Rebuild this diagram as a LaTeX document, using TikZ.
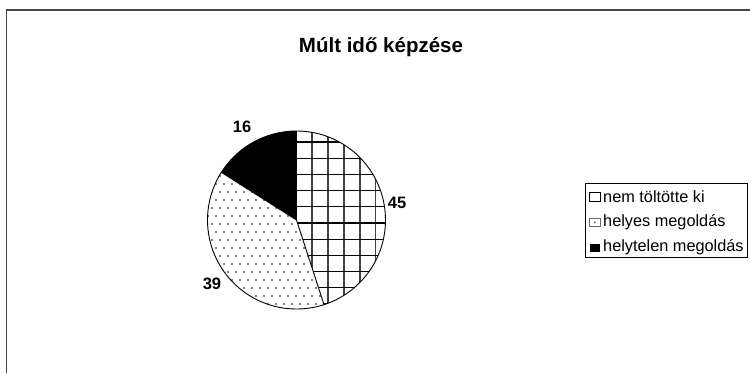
\documentclass[tikz,border=0pt]{standalone}
\usepackage{fontspec}
\setmainfont{Liberation Sans}
\begin{document}
\begin{tikzpicture}[x=1pt,y=-1pt,
  frameline/.style={draw=black!72,line width=1.4pt},
  slicebd/.style={draw=black,line width=0.9pt},
  lbl/.style={font=\fontsize{16.5}{19}\selectfont\bfseries,inner sep=0pt},
  legtxt/.style={font=\fontsize{16.3}{19}\selectfont,anchor=west,inner sep=0pt},
  swatch/.style={draw=black,line width=0.8pt},
  gridv/.style={draw=black!75,line width=1.8pt},
  gridh/.style={draw=black,line width=1.1pt}]
\useasboundingbox (0,0) rectangle (750,373);
\fill[white] (0,0) rectangle (750,373);
% outer frame (only left and top edges visible)
\coordinate (fbl) at (6.5,373);
\coordinate (ftl) at (6.5,10);
\coordinate (ftr) at (750,10);
\draw[frameline] (fbl) -- (ftl) -- (ftr);
% title
\node[font=\fontsize{20.5}{24}\selectfont\bfseries,inner sep=0pt] (title) at (381,47) {Múlt idő képzése};
% pie
\def\R{89}
\coordinate (C) at (296.5,220);
% grid slice (45)
\begin{scope}
  \clip (C) -- ++(-90:\R) arc[start angle=-90,end angle=72,radius=\R] -- cycle;
  \fill[white] (C) circle[radius=\R];
  \foreach \k in {1,...,6} {\draw[gridv] (296.5+15.8*\k,120) -- (296.5+15.8*\k,320);}
  \foreach \k in {0,...,10} {\draw[gridh] (290,142+16.2*\k) -- (400,142+16.2*\k);}
\end{scope}
% dotted slice (39)
\begin{scope}
  \clip (C) -- ++(72:\R) arc[start angle=72,end angle=212.4,radius=\R] -- cycle;
  \fill[white] (C) circle[radius=\R];
  \foreach \j in {0,...,23} {
    \pgfmathsetmacro{\yy}{128+8*\j}
    \pgfmathsetmacro{\off}{mod(\j,2)*4}
    \foreach \i in {0,...,16} {
      \fill[black!65] (204+\off+8*\i,\yy) circle[radius=1.1];
    }
  }
\end{scope}
% black slice (16)
\fill[black] (C) -- ++(212.4:\R) arc[start angle=212.4,end angle=270,radius=\R] -- cycle;
% outlines
\draw[slicebd] (C) circle[radius=\R];
\draw[slicebd] (C) -- ++(-90:\R);
\draw[slicebd] (C) -- ++(72:\R);
\draw[slicebd] (C) -- ++(212.4:\R);
% labels
\node[lbl] (l16) at (242,127) {16};
\node[lbl] (l45) at (397,203) {45};
\node[lbl] (l39) at (212,284) {39};
% legend
\draw[draw=black,line width=0.9pt] (585,183) rectangle (747,257);
\draw[swatch,fill=white] (589.5,192.5) rectangle (600,201);
\draw[draw=black!60,line width=0.8pt,fill=white] (589.5,218) rectangle (600,226.5);
\fill[black!60] (594.75,222.25) circle[radius=1];
\fill[black] (589.5,243.5) rectangle (600,252);
\node[legtxt] (t1) at (603,196.5) {nem töltötte ki};
\node[legtxt] (t2) at (603,222) {helyes megoldás};
\node[legtxt] (t3) at (603,247.5) {helytelen megoldás};
\end{tikzpicture}
\end{document}
